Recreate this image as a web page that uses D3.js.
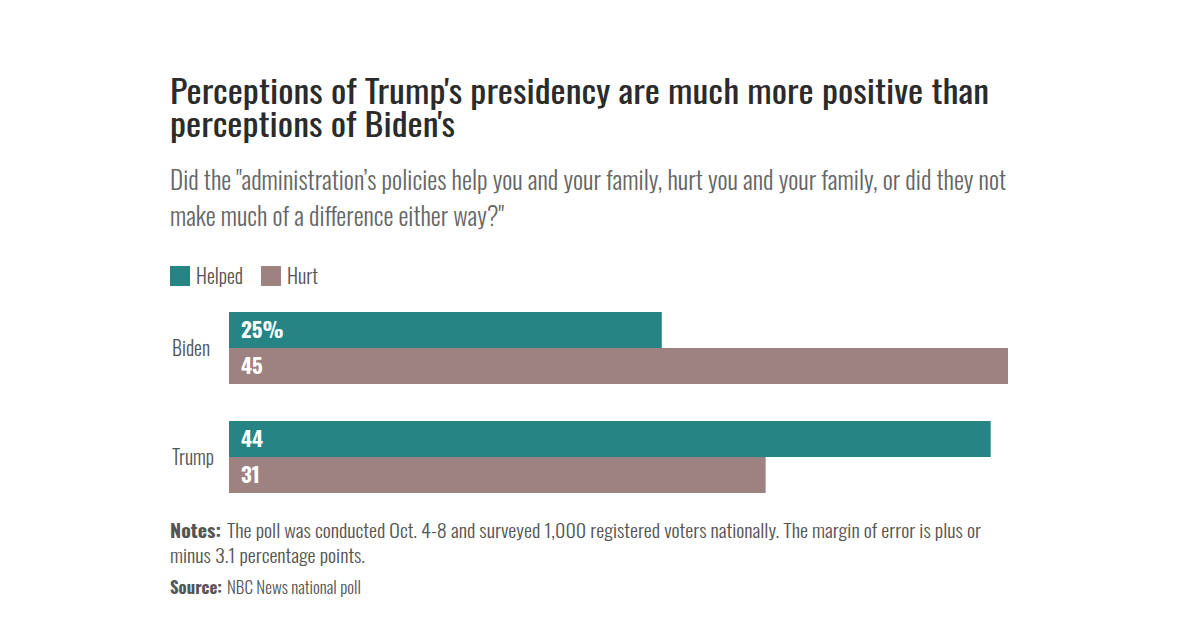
<!DOCTYPE html>
<html>
<head>
<meta charset="utf-8">
<script src="https://cdn.jsdelivr.net/npm/d3@7"></script>
<style>
  html, body { margin: 0; padding: 0; background: #fff; }
  svg text { font-family: "Oswald", "Liberation Sans Narrow", "DejaVu Sans Condensed", "Roboto", sans-serif; }
</style>
</head>
<body>
<svg id="chart" width="1180" height="629"></svg>
<script>
const categories = ["Biden", "Trump"];
const seriesNames = ["Helped", "Hurt"];
const helpedValues = [25, 44];
const hurtValues = [45, 31];
const valueLabels = [["25%", "45"], ["44", "31"]];
const colors = ["#268584", "#9e8181"];

const titleLines = ["Perceptions of Trump's presidency are much more positive than", "perceptions of Biden's"];
const subtitleLines = ["Did the \"administration’s policies help you and your family, hurt you and your family, or did they not", "make much of a difference either way?\""];
const notesLines = ["The poll was conducted Oct. 4-8 and surveyed 1,000 registered voters nationally. The margin of error is plus or", "minus 3.1 percentage points."];
const sourceText = "NBC News national poll";

const svg = d3.select("#chart");

function txt(x, y, s, size, weight, fill, len) {
  const t = svg.append("text").attr("x", x).attr("y", y).text(s)
    .attr("font-size", size).attr("font-weight", weight).attr("fill", fill);
  if (len) t.attr("textLength", len).attr("lengthAdjust", "spacingAndGlyphs");
  return t;
}

// Title
txt(170, 104, titleLines[0], 33, 400, "#2b2b2b", 819);
txt(170, 137, titleLines[1], 33, 400, "#2b2b2b", 285);
// Subtitle
txt(170, 190, subtitleLines[0], 26, 300, "#666", 836);
txt(170, 226, subtitleLines[1], 26, 300, "#666", 334);

// Legend
const legendX = [170, 261];
const legendW = [47, 31];
seriesNames.forEach((n, i) => {
  svg.append("rect").attr("x", legendX[i]).attr("y", 266).attr("width", 20).attr("height", 20).attr("fill", colors[i]);
  txt(legendX[i] + 26, 284, n, 20, 300, "#555", legendW[i]);
});

// Scales
const x = d3.scaleLinear().domain([0, 45]).range([229, 1008]);
const y = d3.scaleBand().domain(categories).range([312, 493]).paddingInner(37 / 109).paddingOuter(0);
const ySub = d3.scaleBand().domain(seriesNames).range([0, y.bandwidth()]);

const data = categories.map((c, i) => ({ cat: c, vals: [helpedValues[i], hurtValues[i]], labels: valueLabels[i] }));

const g = svg.append("g");
data.forEach(d => {
  d.vals.forEach((v, j) => {
    const yy = y(d.cat) + ySub(seriesNames[j]);
    g.append("rect").attr("x", x(0)).attr("y", yy).attr("width", x(v) - x(0))
      .attr("height", ySub.bandwidth()).attr("fill", colors[j]);
    txt(x(0) + 12, yy + ySub.bandwidth() / 2 + 7.5, d.labels[j], 21, 700, "#fff");
  });
  txt(172, y(d.cat) + y.bandwidth() / 2 + 8, d.cat, 20, 300, "#555", d.cat === "Biden" ? 38 : 42);
});

// Notes
txt(170, 538, "Notes:", 18, 700, "#555", 51);
txt(227, 538, notesLines[0], 18, 300, "#555", 754);
txt(170, 563, notesLines[1], 18, 300, "#555", 195);
// Source
txt(170, 594, "Source:", 17, 700, "#555", 52);
txt(227, 594, sourceText, 17, 300, "#555", 134);
</script>
</body>
</html>
